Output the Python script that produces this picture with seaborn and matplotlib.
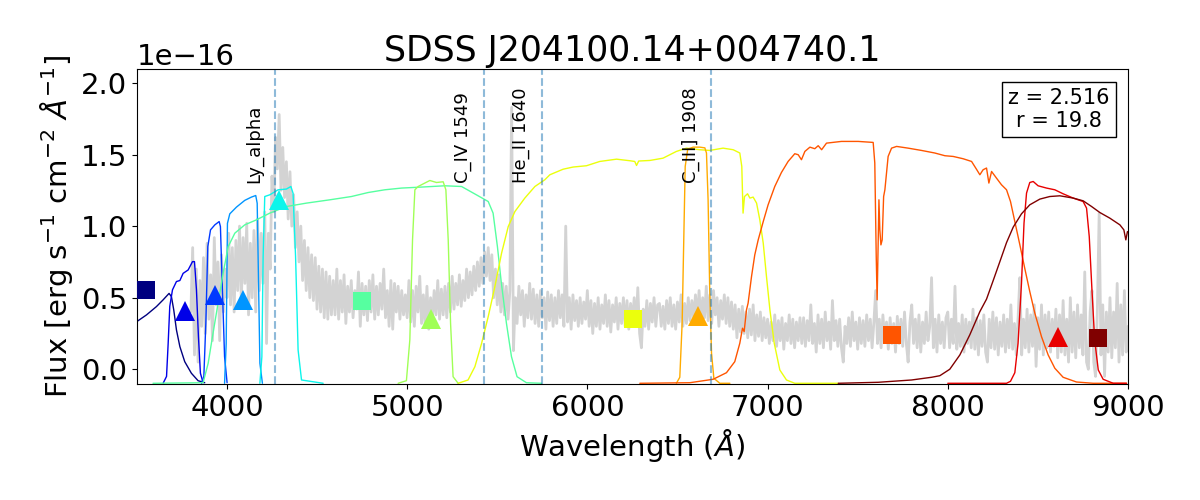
"""
SDSS quasar spectrum with S-PLUS filter curves and synthetic photometry.
Output: out.png (1200x500)
"""

import numpy as np
import matplotlib.pyplot as plt
import seaborn as sns

# ----------------------------------------------------------------------
# Data (flux in units of 1e-16 erg/s/cm2/A)
# ----------------------------------------------------------------------
OBJ_NAME = "SDSS J204100.14+004740.1"
REDSHIFT = 2.516
R_MAG = 19.8

# spectrum, 10 A steps starting at 3800 A (one row = 200 A)
spec_start = 3800
spec_step = 10
spec_flux = [
    0.40, 0.85, 0.10, 0.70, 0.05, 0.62, 0.30, 0.78, 0.25, 0.88, 0.35, 0.66, 0.20, 0.92, 0.45, 0.75, 0.20, 0.80, 0.40, 0.70,
    0.50, 0.95, 0.45, 0.85, 0.40, 0.90, 0.55, 1.00, 0.48, 0.92, 0.60, 1.02, 0.38, 0.88, 0.50, 0.97, 0.40, 1.05, 0.55, 0.95,
    0.60, 1.10, 0.18, 0.95, 0.70, 1.35, 1.10, 1.62, 1.40, 1.78, 1.25, 1.55, 1.20, 1.45, 1.05, 1.38, 1.00, 1.22, 0.85, 1.10,
    0.75, 1.00, 0.62, 0.90, 0.55, 0.85, 0.50, 0.80, 0.48, 0.78, 0.42, 0.72, 0.40, 0.70, 0.36, 0.68, 0.35, 0.65, 0.38, 0.62,
    0.38, 0.70, 0.35, 0.62, 0.40, 0.66, 0.32, 0.58, 0.40, 0.62, 0.36, 0.55, 0.42, 0.68, 0.30, 0.60, 0.38, 0.58, 0.34, 0.62,
    0.40, 0.66, 0.35, 0.58, 0.38, 0.60, 0.42, 0.70, 0.36, 0.55, 0.30, 0.62, 0.28, 0.60, 0.40, 0.58, 0.35, 0.55, 0.38, 0.52,
    0.36, 0.62, 0.33, 0.55, 0.30, 0.58, 0.40, 0.65, 0.32, 0.52, 0.30, 0.58, 0.28, 0.50, 0.35, 0.55, 0.38, 0.62, 0.35, 0.56,
    0.38, 0.58, 0.36, 0.60, 0.40, 0.65, 0.42, 0.60, 0.45, 0.66, 0.44, 0.62, 0.48, 0.70, 0.50, 0.68, 0.52, 0.72, 0.55, 0.75,
    0.58, 0.78, 0.60, 0.82, 0.65, 0.85, 0.62, 0.80, 0.50, 0.70, 0.45, 0.66, 0.40, 0.60, 0.38, 0.58, 0.35, 0.55, 1.83, 0.13,
    0.50, 0.32, 0.58, 0.38, 0.55, 0.30, 0.52, 0.36, 0.60, 0.35, 0.56, 0.32, 0.52, 0.30, 0.55, 0.36, 0.50, 0.28, 0.54, 0.34,
    0.52, 0.30, 0.50, 0.32, 0.55, 0.36, 0.52, 0.30, 1.00, 0.33, 0.50, 0.28, 0.52, 0.34, 0.48, 0.30, 0.50, 0.32, 0.47, 0.35,
    0.55, 0.30, 0.48, 0.25, 0.46, 0.30, 0.50, 0.28, 0.45, 0.32, 0.52, 0.30, 0.48, 0.26, 0.45, 0.33, 0.50, 0.28, 0.46, 0.32,
    0.50, 0.30, 0.48, 0.28, 0.46, 0.33, 0.50, 0.30, 0.57, 0.25, 0.15, 0.42, 0.30, 0.48, 0.28, 0.46, 0.33, 0.50, 0.30, 0.45,
    0.46, 0.30, 0.44, 0.28, 0.48, 0.32, 0.50, 0.30, 0.45, 0.28, 0.47, 0.33, 0.52, 0.30, 0.46, 0.32, 0.50, 0.34, 0.48, 0.36,
    0.52, 0.35, 0.55, 0.33, 0.50, 0.36, 0.58, 0.34, 0.52, 0.32, 0.55, 0.38, 0.50, 0.30, 0.48, 0.35, 0.52, 0.32, 0.50, 0.30,
    0.47, 0.28, 0.45, 0.22, 0.42, 0.26, 0.44, 0.25, 0.40, 0.22, 0.42, 0.24, 0.45, 0.20, 0.38, 0.23, 0.40, 0.20, 0.36, 0.22,
    0.35, 0.18, 0.33, 0.20, 0.38, 0.16, 0.34, 0.20, 0.36, 0.14, 0.32, 0.20, 0.38, 0.18, 0.35, 0.15, 0.33, 0.20, 0.36, 0.18,
    0.36, 0.16, 0.34, 0.20, 0.45, 0.18, 0.32, 0.12, 0.38, 0.18, 0.35, 0.15, 0.40, 0.20, 0.33, 0.14, 0.48, 0.20, 0.34, 0.16,
    0.35, 0.15, 0.05, 0.30, 0.18, 0.36, 0.16, 0.40, 0.20, 0.33, 0.14, 0.36, 0.18, 0.34, 0.16, 0.38, 0.20, 0.35, 0.15, 0.33,
    0.55, 0.18, 0.35, 0.15, 0.38, 0.20, 0.33, 0.14, 0.36, 0.18, 0.32, 0.12, 0.37, 0.18, 0.35, 0.16, 0.40, 0.18, 0.05, 0.33,
    0.45, 0.18, 0.35, 0.15, 0.38, 0.12, 0.33, 0.18, 0.40, 0.20, 0.30, 0.64, 0.15, 0.35, 0.12, 0.38, 0.18, 0.33, 0.15, 0.36,
    0.40, 0.15, 0.35, 0.18, 0.58, 0.14, 0.32, 0.16, 0.38, 0.12, 0.35, 0.18, 0.33, 0.15, 0.42, 0.14, 0.36, 0.10, 0.34, 0.16,
    0.38, 0.12, 0.05, 0.35, 0.15, 0.40, 0.14, 0.36, 0.10, 0.33, 0.16, 0.38, 0.12, 0.35, 0.15, 0.45, 0.14, 0.32, 0.10, 0.36,
    0.64, 0.10, 0.35, 0.15, 0.42, 0.12, 0.38, 0.16, 0.45, 0.02, 0.36, 0.14, 0.45, 0.10, 0.38, 0.15, 0.40, 0.12, 0.35, 0.16,
    0.42, 0.08, 0.38, 0.12, 0.48, 0.10, 0.35, 0.05, 0.50, 0.12, 0.40, 0.08, 0.45, 0.15, 0.38, 0.10, 0.68, 0.05, 0.00, 0.40,
    0.55, 0.05, -0.05, 0.42, 1.09, 0.10, 0.45, -0.05, 0.40, 0.12, 0.50, 0.08, 0.40, 0.15, 0.60, 0.05, 0.45, 0.10, 0.55, 0.12,
    0.30,
]

# emission lines (observed wavelength)
line_names = ["Ly_alpha", "C_IV 1549", "He_II 1640", "C_III] 1908"]
line_wl = [4266, 5425, 5747, 6688]

# filter transmission curves, scaled to flux units
u_wl = [3500, 3554, 3609, 3646, 3679, 3692, 3705, 3720, 3739, 3766, 3803, 3840, 3877]
u_fx = [0.333, 0.38, 0.438, 0.485, 0.53, 0.508, 0.415, 0.275, 0.158, 0.053, -0.028, -0.08, -0.094]

j0378_wl = [3646, 3665, 3674, 3683, 3698, 3720, 3739, 3757, 3785, 3809, 3820, 3831, 3842, 3853, 3868]
j0378_fx = [-0.098, -0.05, 0.18, 0.44, 0.555, 0.613, 0.62, 0.67, 0.694, 0.752, 0.752, 0.555, 0.228, -0.028, -0.094]

j0395_wl = [3859, 3872, 3883, 3894, 3909, 3933, 3957, 3964, 3975, 3987, 4001]
j0395_fx = [-0.098, -0.05, 0.32, 0.857, 0.974, 1.009, 1.032, 0.997, 0.555, 0.088, -0.094]

j0410_wl = [3987, 3996, 4003, 4016, 4053, 4099, 4136, 4160, 4168, 4175, 4183, 4197]
j0410_fx = [-0.098, 0.18, 1.02, 1.086, 1.133, 1.18, 1.203, 1.214, 1.16, 0.648, 0.042, -0.098]

j0430_wl = [4183, 4194, 4201, 4210, 4238, 4284, 4330, 4355, 4367, 4381, 4395, 4414, 4534]
j0430_fx = [-0.098, 0.088, 0.787, 1.207, 1.219, 1.254, 1.259, 1.277, 1.23, 0.787, 0.135, -0.075, -0.098]

g_wl = [3590, 3868, 3896, 3923, 3951, 3979, 4007, 4044, 4099, 4164,
        4238, 4330, 4442, 4571, 4691, 4784, 4876, 4969, 5080, 5209,
        5302, 5394, 5450, 5477, 5501, 5523, 5551, 5579, 5610, 5662, 5746]
g_fx = [-0.098, -0.094, 0.042, 0.252, 0.462, 0.671, 0.857, 0.951, 1.009, 1.044,
        1.091, 1.137, 1.161, 1.184, 1.207, 1.235, 1.254, 1.266, 1.273, 1.282,
        1.277, 1.212, 1.172, 1.091, 0.857, 0.601, 0.322, 0.088, -0.052, -0.094, -0.098]

j0515_wl = [4950, 4996, 5015, 5030, 5043, 5061, 5098, 5126, 5163, 5200, 5215, 5228, 5241, 5255, 5283]
j0515_fx = [-0.098, -0.08, 0.205, 0.904, 1.254, 1.277, 1.301, 1.319, 1.305, 1.31, 1.254, 0.904, 0.322, -0.052, -0.098]

r_wl = [5283, 5338, 5376, 5413, 5450, 5487, 5524, 5561, 5598, 5653,
        5709, 5764, 5792, 5866, 5921, 5995, 6069, 6162, 6236, 6263,
        6273, 6285, 6347, 6420, 6494, 6550, 6624, 6679, 6753, 6809,
        6846, 6857, 6864, 6872, 6889, 6902, 6920, 6939, 6957, 6976,
        6994, 7013, 7037, 7068, 7105, 7151, 7392]
r_fx = [-0.098, -0.075, 0.018, 0.18, 0.368, 0.578, 0.811, 0.997, 1.102, 1.196,
        1.277, 1.324, 1.359, 1.398, 1.413, 1.422, 1.452, 1.468, 1.457, 1.452,
        1.424, 1.455, 1.459, 1.475, 1.522, 1.545, 1.534, 1.529, 1.545, 1.534,
        1.511, 1.417, 1.091, 1.207, 1.226, 1.196, 1.203, 1.161, 1.044, 0.881,
        0.648, 0.415, 0.182, -0.005, -0.075, -0.098, -0.098]

j0660_wl = [6494, 6513, 6526, 6535, 6543, 6557, 6587, 6624, 6652, 6661, 6670, 6679, 6689, 6702, 6735, 6791]
j0660_fx = [-0.098, -0.056, 0.322, 0.904, 1.417, 1.538, 1.552, 1.552, 1.547, 1.511, 1.184, 0.555, 0.112, -0.063, -0.098, -0.098]

i_wl = [6291, 6569, 6698, 6772, 6818, 6846, 6861, 6870, 6883, 6892,
        6911, 6929, 6948, 6976, 7003, 7040, 7077, 7114, 7151, 7170,
        7188, 7207, 7235, 7262, 7281, 7300, 7327, 7410, 7503, 7586,
        7595, 7603, 7608, 7614, 7618, 7623, 7629, 7636, 7644, 7651,
        7669, 7688, 7716, 7780, 7854, 7928, 7984, 8030, 8085, 8132,
        8159, 8178, 8196, 8215, 8228, 8243, 8270, 8298, 8326, 8348,
        8372, 8400, 8427, 8455, 8483, 8520, 8557, 8594, 8640, 8714,
        8807, 8992]
i_fx = [-0.098, -0.094, -0.07, -0.024, 0.053, 0.182, 0.287, 0.263, 0.415, 0.462,
        0.648, 0.799, 0.904, 1.032, 1.149, 1.277, 1.375, 1.452, 1.506, 1.499,
        1.464, 1.522, 1.552, 1.541, 1.562, 1.534, 1.580, 1.592, 1.592, 1.585,
        1.441, 0.787, 0.485, 0.904, 1.184, 0.974, 0.869, 0.904, 1.207, 1.254,
        1.487, 1.545, 1.557, 1.545, 1.529, 1.511, 1.492, 1.487, 1.471, 1.452,
        1.398, 1.359, 1.394, 1.406, 1.301, 1.382, 1.336, 1.289, 1.254, 1.172,
        1.032, 0.869, 0.706, 0.543, 0.392, 0.228, 0.1, 0.007, -0.056, -0.089,
        -0.098, -0.098]

j0861_wl = [8000, 8326, 8348, 8372, 8390, 8409, 8423, 8437, 8455, 8474, 8501,
            8548, 8594, 8640, 8696, 8751, 8770, 8785, 8800, 8815, 8835,
            8862, 8918, 8992]
j0861_fx = [-0.098, -0.098, -0.084, -0.024, 0.182, 0.601, 1.021, 1.231, 1.305, 1.312, 1.282,
            1.266, 1.254, 1.226, 1.196, 1.172, 1.126, 0.927, 0.555, 0.205, -0.005,
            -0.07, -0.098, -0.098]

z_wl = [7392, 7614, 7799, 7910, 7956, 8011, 8067, 8122, 8178, 8215,
        8252, 8289, 8326, 8363, 8409, 8455, 8511, 8566, 8622, 8696,
        8751, 8798, 8844, 8899, 8955, 8977, 8988, 8997]
z_fx = [-0.098, -0.091, -0.075, -0.056, -0.045, 0.0, 0.1, 0.24, 0.403, 0.49,
        0.62, 0.752, 0.885, 0.993, 1.086, 1.149, 1.189, 1.207, 1.212, 1.196,
        1.177, 1.137, 1.095, 1.056, 1.009, 0.974, 0.904, 0.962]

# synthetic photometry per filter
phot_wl = [3550, 3770, 3935, 4090, 4288, 4752, 5130, 6254, 6615, 7691, 8613, 8835]
phot_fx = [0.555, 0.41, 0.52, 0.487, 1.18, 0.478, 0.35, 0.35, 0.373, 0.24, 0.224, 0.217]
phot_broad = [True, False, False, False, False, True, False, True, False, True, False, True]

SCALE = 1e-16

filters = [
    (u_wl, u_fx), (j0378_wl, j0378_fx), (j0395_wl, j0395_fx),
    (j0410_wl, j0410_fx), (j0430_wl, j0430_fx), (g_wl, g_fx),
    (j0515_wl, j0515_fx), (r_wl, r_fx), (j0660_wl, j0660_fx),
    (i_wl, i_fx), (j0861_wl, j0861_fx), (z_wl, z_fx),
]

# ----------------------------------------------------------------------
# Style
# ----------------------------------------------------------------------
sns.set_style("ticks")
plt.rcParams.update({
    "font.family": "DejaVu Sans",
    "font.size": 21,
    "axes.titlesize": 25,
    "axes.labelsize": 21,
    "xtick.labelsize": 21,
    "ytick.labelsize": 21,
    "text.color": "black",
    "axes.labelcolor": "black",
    "axes.edgecolor": "black",
    "xtick.color": "black",
    "ytick.color": "black",
})

colors = plt.cm.jet(np.linspace(0, 1, len(filters)))

# ----------------------------------------------------------------------
# Plot
# ----------------------------------------------------------------------
fig, ax = plt.subplots(figsize=(12, 5), dpi=100)
fig.subplots_adjust(left=0.114, right=0.94, bottom=0.232, top=0.862)

spec_wl = spec_start + spec_step * np.arange(len(spec_flux))
sns.lineplot(x=spec_wl, y=np.array(spec_flux) * SCALE, color="lightgray",
             linewidth=2, ax=ax, zorder=1)

for (wl, fx), c in zip(filters, colors):
    sns.lineplot(x=wl, y=np.array(fx) * SCALE, color=c, linewidth=1,
                 ax=ax, zorder=2, sort=False)

for name, wl in zip(line_names, line_wl):
    ax.axvline(wl, color="C0", alpha=0.5, linestyle="--", linewidth=1.5, zorder=2)
    ax.text(wl - 65, 1.30 * SCALE, name, rotation=90, fontsize=13,
            ha="right", va="bottom")

for wl, fx, broad, c in zip(phot_wl, phot_fx, phot_broad, colors):
    ax.plot(wl, fx * SCALE, marker="s" if broad else "^",
            markersize=13.5 if broad else 14.5, color=c,
            markeredgewidth=0, linestyle="none", zorder=4)

ax.text(0.930, 0.940, f"z = {REDSHIFT}\nr = {R_MAG}", transform=ax.transAxes,
        ha="center", va="top", fontsize=15, multialignment="center",
        bbox=dict(boxstyle="square,pad=0.3", facecolor="white", edgecolor="black"))

ax.set_xlim(3500, 9000)
ax.set_ylim(-0.103 * SCALE, 2.098 * SCALE)
ax.set_xticks([4000, 5000, 6000, 7000, 8000, 9000])
ax.set_title(OBJ_NAME)
ax.set_xlabel(r"Wavelength ($\AA$)")
ax.set_ylabel(r"Flux [erg s$^{-1}$ cm$^{-2}$ $\AA^{-1}$]")

fig.savefig("out.png", dpi=100, facecolor="white")
